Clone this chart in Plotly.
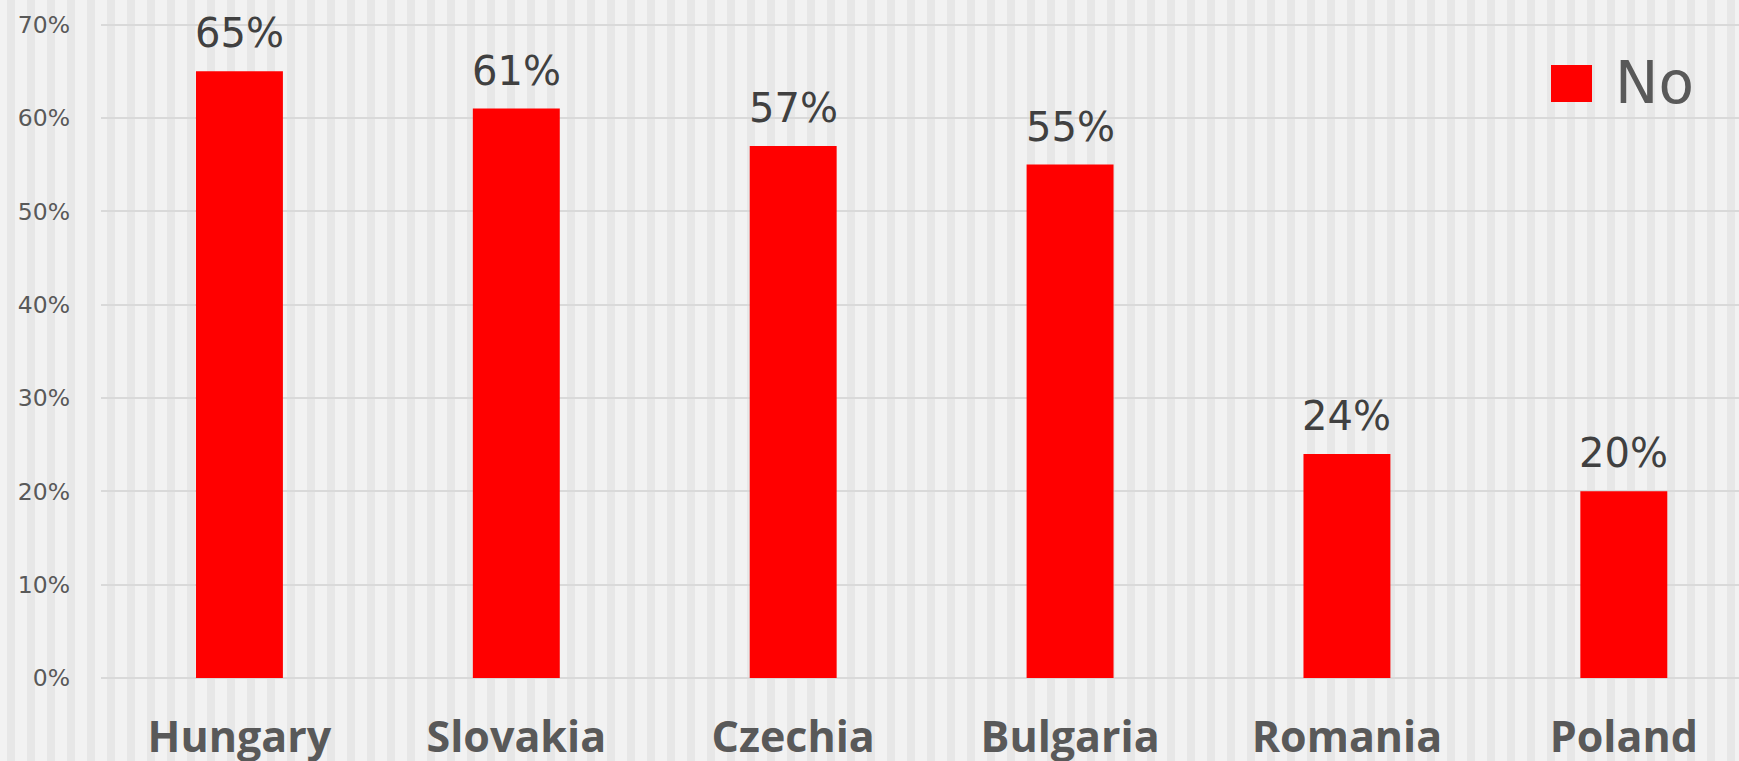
import plotly.graph_objects as go

countries = ["Hungary", "Slovakia", "Czechia", "Bulgaria", "Romania", "Poland"]
no_values = [0.65, 0.61, 0.57, 0.55, 0.24, 0.20]
series_name = "No"
y_ticks = [0, 0.1, 0.2, 0.3, 0.4, 0.5, 0.6, 0.7]

W, H = 1739, 761
ML, MR, MT, MB = 101, 0, 0, 83
PW = W - ML - MR
PH = H - MT - MB

BG = "#f2f2f2"
STRIPE = "#e7e7e7"
TXT = "#595959"

fig = go.Figure()
fig.add_trace(go.Bar(
    x=countries, y=no_values, name=series_name,
    marker=dict(color="#ff0000", line=dict(width=0)),
    width=0.314, showlegend=False,
))

shapes = []
# background vertical stripes (decoration)
px = 7
while px < W:
    shapes.append(dict(
        type="rect", xref="paper", yref="paper",
        x0=(px - ML) / PW, x1=(px + 8 - ML) / PW,
        y0=-0.3, y1=1.2, fillcolor=STRIPE, line=dict(width=0), layer="below",
    ))
    px += 20

# legend swatch
shapes.append(dict(
    type="rect", xref="paper", yref="paper",
    x0=(1551 - ML) / PW, x1=(1592 - ML) / PW,
    y0=(PH - 102) / PH, y1=(PH - 65) / PH,
    fillcolor="#ff0000", line=dict(width=0), layer="above",
))

annotations = []
for c, v in zip(countries, no_values):
    annotations.append(dict(
        x=c, y=v, xref="x", yref="y", text=f"{round(v*100)}%",
        showarrow=False, yanchor="middle", xanchor="center", yshift=38,
        font=dict(family="DejaVu Sans", size=40, color="#404040"),
    ))
annotations.append(dict(
    x=(1613 - ML) / PW, y=(PH - 83) / PH, xref="paper", yref="paper",
    text=series_name, showarrow=False, xanchor="left", yanchor="middle",
    font=dict(family="DejaVu Sans", size=58, color=TXT),
))

fig.update_layout(
    width=W, height=H,
    margin=dict(l=ML, r=MR, t=MT, b=MB, pad=0),
    paper_bgcolor=BG, plot_bgcolor="rgba(0,0,0,0)",
    shapes=shapes, annotations=annotations,
    xaxis=dict(
        type="category", range=[-0.5, 5.416], showgrid=False, showline=False,
        zeroline=False, ticks="", automargin=False,
        tickfont=dict(family="Open Sans", size=43, color=TXT, weight="bold"),
        ticklabelstandoff=30,
    ),
    yaxis=dict(
        range=[0, 0.7 * PH / 653.4], tickvals=y_ticks,
        tickformat=".0%", showgrid=True, gridcolor="#d9d9d9", gridwidth=1.5,
        zeroline=True, zerolinecolor="#d9d9d9", zerolinewidth=1.5,
        showline=False, ticks="", automargin=False,
        tickfont=dict(family="DejaVu Sans", size=23.5, color=TXT),
        ticklabelstandoff=30,
    ),
)

fig.write_html("out.html")
